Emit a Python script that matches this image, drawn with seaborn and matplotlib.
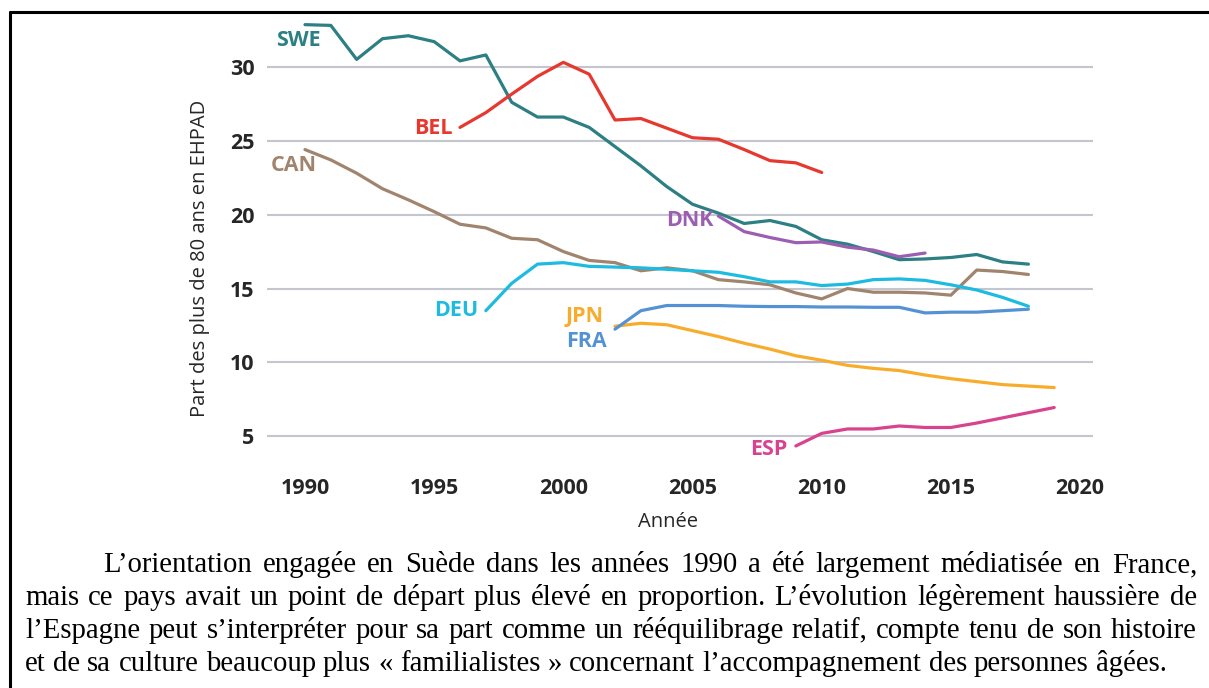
import pandas as pd
import seaborn as sns
import matplotlib.pyplot as plt
from matplotlib.lines import Line2D

# values
swe_years = list(range(1990, 2019))
swe = [32.85, 32.8, 30.5, 31.9, 32.1, 31.7, 30.4, 30.8, 27.6, 26.6, 26.6, 25.9, 24.6,
       23.3, 21.9, 20.7, 20.1, 19.4, 19.6, 19.2, 18.3, 18.0, 17.5, 16.95, 17.0, 17.1,
       17.3, 16.8, 16.65]
bel_years = list(range(1996, 2011))
bel = [25.9, 26.9, 28.15, 29.35, 30.3, 29.5, 26.4, 26.5, 25.85, 25.2, 25.1, 24.4,
       23.65, 23.5, 22.85]
can_years = list(range(1990, 2019))
can = [24.4, 23.7, 22.8, 21.75, 21.0, 20.2, 19.35, 19.1, 18.4, 18.3, 17.5, 16.9, 16.75,
       16.2, 16.4, 16.2, 15.6, 15.45, 15.25, 14.7, 14.3, 15.0, 14.75, 14.75, 14.7, 14.55,
       16.25, 16.15, 15.95]
deu_years = list(range(1997, 2019))
deu = [13.5, 15.35, 16.65, 16.75, 16.5, 16.45, 16.4, 16.3, 16.2, 16.1, 15.8, 15.45,
       15.45, 15.2, 15.3, 15.6, 15.65, 15.55, 15.25, 14.9, 14.4, 13.8]
jpn_years = list(range(2002, 2020))
jpn = [12.45, 12.65, 12.55, 12.15, 11.75, 11.3, 10.9, 10.45, 10.15, 9.8, 9.6, 9.45,
       9.15, 8.9, 8.7, 8.5, 8.4, 8.3]
fra_years = list(range(2002, 2019))
fra = [12.25, 13.5, 13.85, 13.85, 13.85, 13.8, 13.78, 13.78, 13.75, 13.75, 13.73,
       13.73, 13.35, 13.4, 13.4, 13.5, 13.6]
dnk_years = list(range(2006, 2015))
dnk = [19.9, 18.85, 18.45, 18.1, 18.15, 17.8, 17.6, 17.15, 17.4]
esp_years = list(range(2009, 2020))
esp = [4.35, 5.2, 5.5, 5.5, 5.7, 5.6, 5.6, 5.9, 6.25, 6.6, 6.95]

series = {
    'SWE': (swe_years, swe),
    'BEL': (bel_years, bel),
    'CAN': (can_years, can),
    'DEU': (deu_years, deu),
    'JPN': (jpn_years, jpn),
    'FRA': (fra_years, fra),
    'DNK': (dnk_years, dnk),
    'ESP': (esp_years, esp),
}

colors = {
    'SWE': '#2c7f83',
    'BEL': '#e6382f',
    'CAN': '#a1846d',
    'DEU': '#1dbbe0',
    'JPN': '#f8ac2b',
    'FRA': '#5592d3',
    'DNK': '#9b5eb0',
    'ESP': '#d8428f',
}

# label anchor (right edge, vertical centre) in data units
label_pos = {
    'SWE': (1990.6, 31.8),
    'BEL': (1995.7, 25.8),
    'CAN': (1990.45, 23.3),
    'DEU': (1996.7, 13.5),
    'JPN': (2001.57, 13.1),
    'FRA': (2001.7, 11.4),
    'DNK': (2005.8, 19.57),
    'ESP': (2008.66, 4.1),
}

x_ticks = [1990, 1995, 2000, 2005, 2010, 2015, 2020]
y_ticks = [5, 10, 15, 20, 25, 30]

paragraph = [
    "L’orientation engagée en Suède dans les années 1990 a été largement médiatisée en France,",
    "mais ce pays avait un point de départ plus élevé en proportion. L’évolution légèrement haussière de",
    "l’Espagne peut s’interpréter pour sa part comme un rééquilibrage relatif, compte tenu de son histoire",
    "et de sa culture beaucoup plus « familialistes » concernant l’accompagnement des personnes âgées.",
]

rows = []
for name, (yrs, vals) in series.items():
    for yr, v in zip(yrs, vals):
        rows.append({'year': yr, 'value': v, 'country': name})
df = pd.DataFrame(rows)

sns.set_style('white')
plt.rcParams['font.family'] = ['Open Sans', 'DejaVu Sans']

W, H = 1209, 688
fig = plt.figure(figsize=(W / 100, H / 100), dpi=100)
ax = fig.add_axes([267 / W, (H - 460) / H, (1093 - 267) / W, (460 - 18) / H])

sns.lineplot(data=df, x='year', y='value', hue='country', palette=colors,
             linewidth=2.3, legend=False, ax=ax, zorder=3)

ax.set_xlim(1988.53, 2020.5)
ax.set_ylim(3.4, 33.3)
ax.set_xticks(x_ticks)
ax.set_yticks(y_ticks)
ax.set_xticklabels([str(t) for t in x_ticks], fontsize=15.5, fontweight='bold')
ax.set_yticklabels([str(t) for t in y_ticks], fontsize=15.5, fontweight='bold')
ax.tick_params(axis='x', length=0, pad=13)
ax.tick_params(axis='y', length=0, pad=9)
ax.grid(axis='y', color='#c3c6ce', linewidth=1.5, zorder=0)
ax.grid(axis='x', visible=False)
for s in ax.spines.values():
    s.set_visible(False)

ax.set_xlabel('Année', fontsize=14.5)
ax.set_ylabel('Part des plus de 80 ans en EHPAD', fontsize=14.5)
ax.xaxis.set_label_coords(0.485, -0.118)
ax.yaxis.set_label_coords(-0.069, 0.457)

for name, (lx, ly) in label_pos.items():
    ax.text(lx, ly, name, color=colors[name], fontsize=15.5, fontweight='bold',
            ha='right', va='center')

# frame lines of the page
fig.add_artist(Line2D([10 / W, 1], [1 - 12 / H, 1 - 12 / H], color='black', linewidth=2.2))
fig.add_artist(Line2D([10 / W, 10 / W], [0, 1 - 12 / H], color='black', linewidth=2.2))

# justified paragraph, placed word by word
renderer = fig.canvas.get_renderer()
para_font = dict(family='Liberation Serif', fontsize=20.7, color='black')
baselines = [572, 605, 638, 671]
left, indent, right = 25, 103, 1197
probe1 = fig.text(0, 0, 'a a', **para_font)
probe2 = fig.text(0, 0, 'aa', **para_font)
space_w = probe1.get_window_extent(renderer).width - probe2.get_window_extent(renderer).width
probe1.remove()
probe2.remove()
for i, line in enumerate(paragraph):
    words = line.split(' ')
    x0 = indent if i == 0 else left
    texts = [fig.text(0, 0, w, va='baseline', ha='left', **para_font) for w in words]
    widths = [t.get_window_extent(renderer).width for t in texts]
    if i < len(paragraph) - 1:
        gap = (right - x0 - sum(widths)) / (len(words) - 1)
    else:
        gap = space_w
    x = x0
    for t, w in zip(texts, widths):
        t.set_position((x / W, 1 - baselines[i] / H))
        x += w + gap

fig.savefig('out.png', dpi=100)
